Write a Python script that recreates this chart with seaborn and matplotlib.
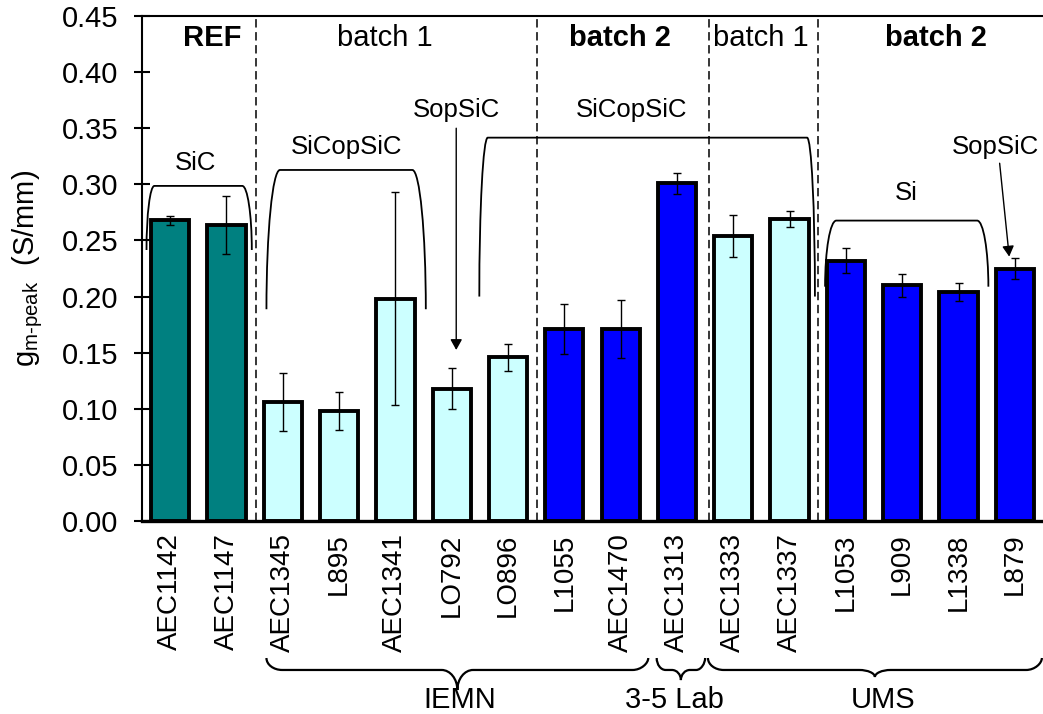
import numpy as np
import pandas as pd
import matplotlib
matplotlib.use("Agg")
import matplotlib.pyplot as plt
import matplotlib.transforms as mtransforms
from matplotlib.path import Path
from matplotlib.patches import PathPatch
import seaborn as sns

# ---- data -------------------------------------------------------------
samples = ["AEC1142", "AEC1147", "AEC1345", "L895", "AEC1341", "LO792",
           "LO896", "L1055", "AEC1470", "AEC1313", "AEC1333", "AEC1337",
           "L1053", "L909", "L1338", "L879"]
gm_peak = [0.268, 0.264, 0.106, 0.098, 0.198, 0.118, 0.146, 0.171,
           0.171, 0.301, 0.254, 0.269, 0.232, 0.210, 0.204, 0.225]
gm_err = [0.004, 0.026, 0.026, 0.017, 0.095, 0.018, 0.012, 0.022,
          0.026, 0.0095, 0.019, 0.007, 0.011, 0.010, 0.008, 0.0095]
series = ["REF", "REF", "batch 1", "batch 1", "batch 1", "batch 1",
          "batch 1", "batch 2", "batch 2", "batch 2", "batch 1", "batch 1",
          "batch 2", "batch 2", "batch 2", "batch 2"]
series_colors = {"REF": "#008080", "batch 1": "#CCFFFF", "batch 2": "#0000FF"}

y_ticks = [0.00, 0.05, 0.10, 0.15, 0.20, 0.25, 0.30, 0.35, 0.40, 0.45]

df = pd.DataFrame({"sample": samples, "gm": gm_peak, "err": gm_err,
                   "series": series})

# ---- style ------------------------------------------------------------
sns.set_theme(style="white")
plt.rcParams["font.family"] = ["Liberation Sans", "DejaVu Sans"]
plt.rcParams["mathtext.fontset"] = "custom"
plt.rcParams["mathtext.rm"] = "Liberation Sans"
plt.rcParams["mathtext.it"] = "Liberation Sans:italic"
plt.rcParams["mathtext.bf"] = "Liberation Sans:bold"
for key in ("text.color", "axes.labelcolor", "xtick.color", "ytick.color",
            "axes.edgecolor"):
    plt.rcParams[key] = "black"

fig = plt.figure(figsize=(10.43, 7.14), dpi=100)
ax = fig.add_axes([142 / 1043, 193 / 714, 901 / 1043, 505 / 714])

sns.barplot(data=df, x="sample", y="gm", hue="series", order=samples,
            palette=series_colors, dodge=False, width=0.68,
            edgecolor="black", linewidth=2.8, errorbar=None,
            legend=False, saturation=1, ax=ax, zorder=2)

pos = np.arange(len(samples))
ax.errorbar(pos, df["gm"], yerr=df["err"], fmt="none", ecolor="black",
            elinewidth=1.0, capsize=3, capthick=1.0, zorder=4)

ax.set_xlim(-0.5, len(samples) - 0.5)
ax.set_ylim(0, 0.45)
ax.set_yticks(y_ticks)
ax.set_yticklabels([f"{v:.2f}" for v in y_ticks])
ax.set_xlabel("")
ax.set_ylabel(r"$\mathregular{g_{m\text{-}peak}}$  (S/mm)", fontsize=21,
              color="black")
ax.yaxis.set_label_coords(-0.108, 0.5)

ax.tick_params(axis="y", direction="inout", length=12, width=1.5,
               labelsize=21, pad=11, color="black", labelcolor="black",
               left=True)
ax.tick_params(axis="x", length=0, labelsize=20, pad=9, labelrotation=90,
               labelcolor="black")

for side in ("left", "top"):
    ax.spines[side].set_linewidth(1.5)
    ax.spines[side].set_color("black")
ax.spines["bottom"].set_linewidth(2.4)
ax.spines["bottom"].set_color("black")
ax.spines["right"].set_visible(False)

# ---- group separators and headers --------------------------------------
ax.vlines([1.52, 6.52, 9.56, 11.5], 0, 0.45, colors="black", linewidth=1.1,
          linestyles=(0, (5.5, 3)), zorder=1)

headers = [(0.74, "REF", "bold"), (3.82, "batch 1", "normal"),
           (7.99, "batch 2", "bold"), (10.49, "batch 1", "normal"),
           (13.59, "batch 2", "bold")]
for xh, txt, w in headers:
    ax.text(xh, 0.4305, txt, ha="center", va="center", fontsize=21,
            fontweight=w, color="black")


# ---- structure brackets ------------------------------------------------
def bracket(x0, xc0, xc1, x1, yb, yt):
    k = 0.552
    h = yt - yb
    verts = [(x0, yb),
             (x0, yb + k * h), (x0 + (1 - k) * (xc0 - x0), yt), (xc0, yt),
             (xc1, yt),
             (x1 - (1 - k) * (x1 - xc1), yt), (x1, yb + k * h), (x1, yb)]
    codes = [Path.MOVETO, Path.CURVE4, Path.CURVE4, Path.CURVE4,
             Path.LINETO, Path.CURVE4, Path.CURVE4, Path.CURVE4]
    ax.add_patch(PathPatch(Path(verts, codes), fill=False, lw=1.3,
                           edgecolor="black", zorder=3, clip_on=False))


bracket(-0.42, -0.28, 1.28, 1.45, 0.2415, 0.2986)
bracket(1.71, 1.95, 4.30, 4.54, 0.1887, 0.3128)
bracket(5.49, 5.64, 11.31, 11.45, 0.200, 0.3416)
bracket(11.63, 11.83, 14.33, 14.53, 0.2088, 0.2677)

notes = [(0.45, 0.319, "SiC"), (3.13, 0.3336, "SiCopSiC"),
         (5.09, 0.3663, "SopSiC"), (8.20, 0.3663, "SiCopSiC"),
         (13.08, 0.292, "Si"), (14.65, 0.3336, "SopSiC")]
for xn, yn, txt in notes:
    ax.text(xn, yn, txt, ha="center", va="center", fontsize=18.5,
            color="black")

arrow = dict(arrowstyle="-|>,head_length=0.45,head_width=0.25",
             color="black", lw=1.0, shrinkA=0, shrinkB=0,
             mutation_scale=14)
ax.annotate("", xy=(5.08, 0.1524), xytext=(5.08, 0.350), arrowprops=arrow)
ax.annotate("", xy=(14.90, 0.2356), xytext=(14.73, 0.3188),
            arrowprops=arrow)

# ---- laboratory braces below the sample names --------------------------
blend = mtransforms.blended_transform_factory(ax.transData, ax.transAxes)


def brace(x0, x1, r, ye, yf, yp):
    k = 0.552
    xm = 0.5 * (x0 + x1)
    verts = [(x0, ye),
             (x0, ye + k * (yf - ye)), (x0 + (1 - k) * r, yf), (x0 + r, yf),
             (xm - r, yf),
             (xm - r + k * r, yf), (xm, yp + k * (yf - yp)), (xm, yp),
             (xm, yp + k * (yf - yp)), (xm + r - k * r, yf), (xm + r, yf),
             (x1 - r, yf),
             (x1 - (1 - k) * r, yf), (x1, yf + k * (ye - yf)), (x1, ye)]
    codes = ([Path.MOVETO] + [Path.CURVE4] * 3 + [Path.LINETO]
             + [Path.CURVE4] * 6 + [Path.LINETO] + [Path.CURVE4] * 3)
    ax.add_patch(PathPatch(Path(verts, codes), fill=False, lw=1.6,
                           edgecolor="black", transform=blend,
                           clip_on=False))


brace(1.71, 8.49, 0.28, -0.2713, -0.295, -0.3347)
brace(8.64, 9.50, 0.16, -0.2713, -0.295, -0.315)
brace(9.55, 15.48, 0.28, -0.2713, -0.295, -0.309)

for xl, txt in [(5.15, "IEMN"), (8.95, "3-5 Lab"), (12.66, "UMS")]:
    ax.text(xl, -0.354, txt, ha="center", va="center", fontsize=21,
            transform=blend, clip_on=False, color="black")

fig.savefig("out.png", dpi=100, facecolor="white")
